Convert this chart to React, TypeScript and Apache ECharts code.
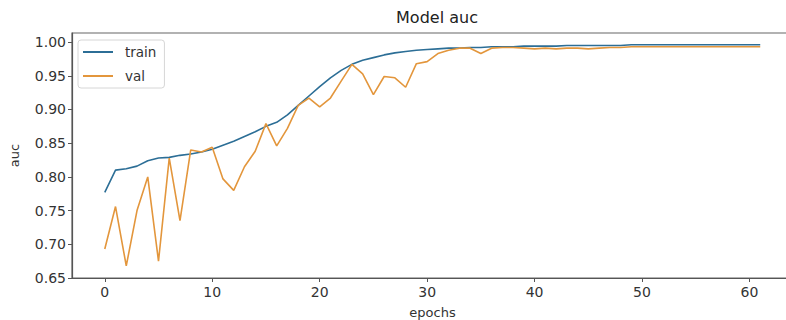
import React, { useEffect, useRef } from "react";
import * as echarts from "echarts";

const epochs: number[] = Array.from({ length: 62 }, (_, i) => i);

const trainAuc: number[] = [
  0.777, 0.810, 0.812, 0.816, 0.824, 0.828, 0.829, 0.832, 0.834, 0.837,
  0.841, 0.847, 0.853, 0.860, 0.867, 0.875, 0.881, 0.892, 0.906, 0.920,
  0.934, 0.947, 0.958, 0.967, 0.973, 0.977, 0.981, 0.984, 0.986, 0.988,
  0.989, 0.990, 0.991, 0.991, 0.992, 0.992, 0.993, 0.993, 0.993, 0.994,
  0.994, 0.994, 0.994, 0.995, 0.995, 0.995, 0.995, 0.995, 0.995, 0.996,
  0.996, 0.996, 0.996, 0.996, 0.996, 0.996, 0.996, 0.996, 0.996, 0.996,
  0.996, 0.996,
];

const valAuc: number[] = [
  0.693, 0.756, 0.668, 0.750, 0.800, 0.675, 0.828, 0.735, 0.840, 0.837,
  0.844, 0.797, 0.780, 0.815, 0.838, 0.879, 0.846, 0.872, 0.906, 0.917,
  0.904, 0.917, 0.942, 0.967, 0.953, 0.922, 0.949, 0.947, 0.933, 0.968,
  0.971, 0.983, 0.988, 0.991, 0.991, 0.983, 0.991, 0.992, 0.992, 0.991,
  0.990, 0.991, 0.990, 0.991, 0.991, 0.990, 0.991, 0.992, 0.992, 0.993,
  0.993, 0.993, 0.993, 0.993, 0.993, 0.993, 0.993, 0.993, 0.993, 0.993,
  0.993, 0.993,
];

const xTicks: number[] = [0, 10, 20, 30, 40, 50, 60];
const yTicks: number[] = [0.65, 0.7, 0.75, 0.8, 0.85, 0.9, 0.95, 1.0];

const TRAIN_COLOR = "#2c6e96";
const VAL_COLOR = "#e3963c";
const FONT = "DejaVu Sans";

export default function App() {
  const ref = useRef<HTMLDivElement>(null);
  useEffect(() => {
    document.body.style.margin = "0";
    if (!ref.current) return;
    const chart = echarts.init(ref.current, undefined, { renderer: "svg" });
    chart.setOption({
      animation: false,
      backgroundColor: "#ffffff",
      textStyle: { fontFamily: FONT },
      title: {
        text: "Model auc",
        left: 432,
        top: 4,
        textAlign: "center",
        textStyle: { fontSize: 16, fontWeight: "normal", color: "#222", fontFamily: FONT },
      },
      legend: {
        orient: "vertical",
        left: 78,
        top: 40,
        padding: [5, 8, 5, 5],
        itemWidth: 30,
        itemHeight: 2,
        itemGap: 10,
        icon: "rect",
        borderColor: "#d6d6d6",
        borderWidth: 1,
        borderRadius: 3,
        textStyle: { fontSize: 13.5, color: "#333", fontFamily: FONT, padding: [0, 0, 0, 7] },
        data: ["train", "val"],
      },
      grid: {
        left: 72,
        top: 33,
        width: 721,
        height: 245,
        show: true,
        containLabel: false,
        outerBoundsMode: "none",
        borderColor: "#666",
        borderWidth: 1.2,
        backgroundColor: "transparent",
      },
      xAxis: {
        type: "value",
        min: -3.05,
        max: 64.05,
        name: "epochs",
        nameLocation: "middle",
        nameGap: 28,
        nameTextStyle: { fontSize: 13, color: "#333", fontFamily: FONT },
        splitLine: { show: false },
        axisLine: { show: true, onZero: false, lineStyle: { color: "#555", width: 1.2 } },
        axisTick: { show: true, length: 4, customValues: xTicks, lineStyle: { color: "#555" } },
        axisLabel: {
          customValues: xTicks,
          fontSize: 14,
          color: "#333",
          margin: 7,
          fontFamily: FONT,
        },
      },
      yAxis: {
        type: "value",
        min: 0.65,
        max: 1.0135,
        name: "auc",
        nameLocation: "middle",
        nameGap: 51,
        nameRotate: 90,
        nameTextStyle: { fontSize: 13, color: "#333", fontFamily: FONT },
        splitLine: { show: false },
        axisLine: { show: true, onZero: false, lineStyle: { color: "#555", width: 1.2 } },
        axisTick: { show: true, length: 4, customValues: yTicks, lineStyle: { color: "#555" } },
        axisLabel: {
          customValues: yTicks,
          fontSize: 14,
          color: "#333",
          margin: 6,
          fontFamily: FONT,
          formatter: (v: number) => v.toFixed(2),
        },
      },
      series: [
        {
          name: "train",
          type: "line",
          data: epochs.map((e, i) => [e, trainAuc[i]]),
          symbol: "none",
          lineStyle: { color: TRAIN_COLOR, width: 1.6 },
          itemStyle: { color: TRAIN_COLOR },
        },
        {
          name: "val",
          type: "line",
          data: epochs.map((e, i) => [e, valAuc[i]]),
          symbol: "none",
          lineStyle: { color: VAL_COLOR, width: 1.6 },
          itemStyle: { color: VAL_COLOR },
        },
      ],
    });
    return () => chart.dispose();
  }, []);
  return <div ref={ref} style={{ width: 786, height: 320 }} />;
}
